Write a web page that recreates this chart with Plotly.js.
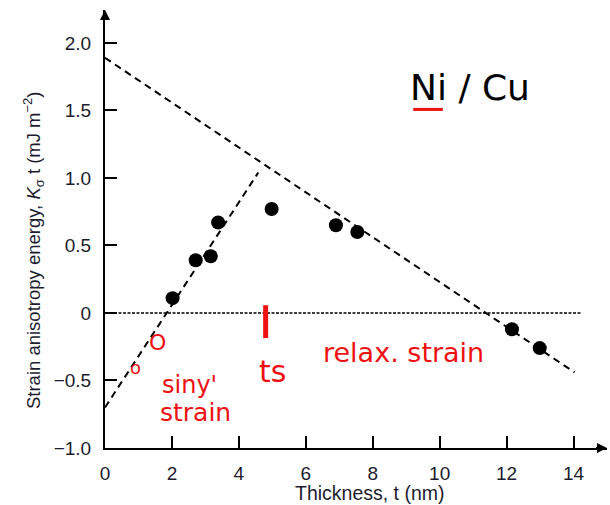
<!DOCTYPE html>
<html>
<head>
<meta charset="utf-8">
<script src="https://cdn.plot.ly/plotly-3.0.1.min.js"></script>
<style>html,body{margin:0;padding:0;background:#fff;}#chart{width:610px;height:505px;}</style>
</head>
<body>
<div id="chart"></div>
<script>
// Measured points: thickness t (nm) and strain anisotropy energy K_sigma*t (mJ m^-2)
const thickness = [2.02, 2.71, 3.16, 3.38, 4.98, 6.90, 7.54, 12.16, 12.99];
const energy    = [0.11, 0.39, 0.42, 0.67, 0.77, 0.65, 0.60, -0.12, -0.26];

// Dashed guide lines (coherent strain / relaxed strain)
const coherentX = [0, 4.58];
const coherentY = [-0.70, 1.04];
const relaxedX  = [0, 14.03];
const relaxedY  = [1.89, -0.44];

// Dotted zero reference
const zeroX = [0, 14.22];
const zeroY = [0, 0];

// Tick labels
const xTickVals = [0, 2, 4, 6, 8, 10, 12, 14];
const xTickText = ['0', '2', '4', '6', '8', '10', '12', '14'];
const yTickVals = [-1.0, -0.5, 0, 0.5, 1.0, 1.5, 2.0];
const yTickText = ['\u22121.0', '\u22120.5', '0', '0.5', '1.0', '1.5', '2.0'];

const tickColor = '#1c1c2e';
const font = 'Liberation Sans, Arial, sans-serif';

const traces = [
  {x: zeroX, y: zeroY, mode: 'lines', line: {color: '#000', width: 1.5, dash: '3px,1.5px'}, hoverinfo: 'skip', cliponaxis: false},
  {x: coherentX, y: coherentY, mode: 'lines', line: {color: '#000', width: 2, dash: '7px,5px'}, hoverinfo: 'skip', cliponaxis: false},
  {x: relaxedX, y: relaxedY, mode: 'lines', line: {color: '#000', width: 2, dash: '7px,5px'}, hoverinfo: 'skip', cliponaxis: false},
  {x: thickness, y: energy, mode: 'markers', marker: {color: '#000', size: 14}, cliponaxis: false}
];

const red = '#ee1111';
const hand = 'DejaVu Sans, sans-serif';

const layout = {
  width: 610, height: 505,
  margin: {l: 105, r: 3, t: 10, b: 57},
  paper_bgcolor: '#fff', plot_bgcolor: '#fff',
  showlegend: false,
  font: {family: font, color: tickColor},
  xaxis: {
    range: [0, 15], showgrid: false, zeroline: false,
    showline: true, linecolor: '#000', linewidth: 2,
    ticks: 'inside', ticklen: 12, tickwidth: 2, tickcolor: '#000',
    tickvals: xTickVals, ticktext: xTickText,
    tickfont: {size: 19, color: tickColor, family: font},
    ticklabelstandoff: 7
  },
  yaxis: {
    range: [-1, 2.244], showgrid: false, zeroline: false,
    showline: true, linecolor: '#000', linewidth: 2,
    ticks: 'inside', ticklen: 12, tickwidth: 2, tickcolor: '#000',
    tickvals: yTickVals, ticktext: yTickText,
    tickfont: {size: 19, color: tickColor, family: font},
    ticklabelstandoff: 8
  },
  annotations: [
    {xref: 'paper', yref: 'paper', x: -0.1434, y: 0.452, xanchor: 'center', yanchor: 'middle', textangle: -90,
     showarrow: false, text: 'Strain anisotropy energy, <i>K</i><sub>σ</sub> t (mJ m<sup>−2</sup>)',
     font: {size: 18.5, color: tickColor, family: font}},
    {xref: 'paper', yref: 'paper', x: 0.528, y: -0.103, xanchor: 'center', yanchor: 'middle',
     showarrow: false, text: 'Thickness, t (nm)', font: {size: 19.5, color: tickColor, family: font}},
    // axis arrowheads
    {xref: 'x', yref: 'y', x: 15, y: -1, ax: -14, ay: 0, showarrow: true, arrowhead: 2, arrowsize: 1, arrowwidth: 2, arrowcolor: '#000', text: ' '},
    {xref: 'x', yref: 'y', x: 0, y: 2.244, ax: 0, ay: 14, showarrow: true, arrowhead: 2, arrowsize: 1, arrowwidth: 2, arrowcolor: '#000', text: ' '},
    // handwritten notes
    {xref: 'paper', yref: 'paper', x: 0.728, y: 0.822, xanchor: 'center', yanchor: 'middle', showarrow: false,
     text: 'Ni / Cu', font: {size: 36, color: '#000', family: hand}},
    {xref: 'paper', yref: 'paper', x: 0.061, y: 0.183, xanchor: 'center', yanchor: 'middle', showarrow: false,
     text: 'o', font: {size: 18, color: red, family: hand}},
    {xref: 'paper', yref: 'paper', x: 0.104, y: 0.242, xanchor: 'center', yanchor: 'middle', showarrow: false,
     text: 'O', font: {size: 22, color: red, family: hand}},
    {xref: 'paper', yref: 'paper', x: 0.169, y: 0.144, xanchor: 'center', yanchor: 'middle', showarrow: false,
     text: "siny'", font: {size: 24, color: red, family: hand}},
    {xref: 'paper', yref: 'paper', x: 0.181, y: 0.080, xanchor: 'center', yanchor: 'middle', showarrow: false,
     text: 'strain', font: {size: 25, color: red, family: hand}},
    {xref: 'paper', yref: 'paper', x: 0.333, y: 0.174, xanchor: 'center', yanchor: 'middle', showarrow: false,
     text: 'ts', font: {size: 30, color: red, family: hand}},
    {xref: 'paper', yref: 'paper', x: 0.594, y: 0.219, xanchor: 'center', yanchor: 'middle', showarrow: false,
     text: 'relax. strain', font: {size: 27, color: red, family: hand}}
  ],
  shapes: [
    {type: 'line', xref: 'paper', yref: 'paper', x0: 0.320, x1: 0.320, y0: 0.326, y1: 0.251, line: {color: red, width: 5}},
    {type: 'line', xref: 'paper', yref: 'paper', x0: 0.614, x1: 0.673, y0: 0.773, y1: 0.773, line: {color: red, width: 3}}
  ]
};

Plotly.newPlot('chart', traces, layout, {displayModeBar: false, staticPlot: true});
</script>
</body>
</html>
